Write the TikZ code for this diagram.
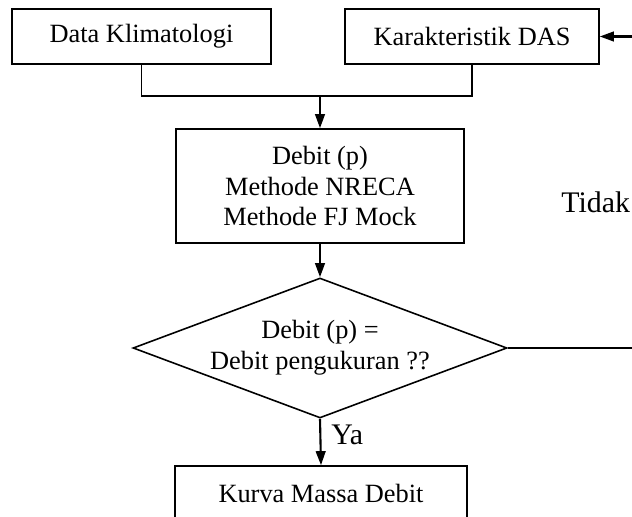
\documentclass[tikz,border=0pt]{standalone}
\usepackage{fontspec}
\setmainfont{Liberation Serif}
\usetikzlibrary{shapes.geometric,arrows.meta,positioning,calc}

\begin{document}
\begin{tikzpicture}[
  box/.style={draw, rectangle, line width=0.9pt, minimum height=1.1cm, align=center, inner sep=2pt},
  decision/.style={draw, diamond, aspect=2.67, line width=0.9pt, minimum width=7.48cm, minimum height=2.8cm, inner sep=0pt, align=center},
  line/.style={line width=0.9pt},
  arr/.style={-{Triangle[length=8pt,width=5.5pt]}, line width=1.2pt},
  lbl/.style={anchor=base west, inner sep=0pt, font=\fontsize{17}{20}\selectfont},
  font=\fontsize{15}{17.5}\selectfont
]
\useasboundingbox (0,0) rectangle (12.64,-10.34);

\node[box, minimum width=5.18cm] (klim) at (2.83,-0.73) {Data Klimatologi};
\node[box, minimum width=5.08cm] (das) at (9.44,-0.73) {Karakteristik DAS};
\node[box, minimum width=5.76cm, minimum height=2.28cm] (debit) at (6.40,-3.72) {Debit (p)\\Methode NRECA\\Methode FJ Mock};
\node[decision] (diam) at (6.40,-6.96) {Debit (p) =\\Debit pengukuran ??};
\node[box, minimum width=5.84cm] (kurva) at (6.42,-9.87) {Kurva Massa Debit};

\coordinate (junc) at (6.40,-1.92);
\coordinate (back) at (13.2,-0.73);

\draw[line] (klim.south) |- (junc) -| (das.south);
\draw[arr] (junc) -- (debit.north);
\draw[arr] (debit.south) -- (diam.north);
\draw[arr] (diam.south) -- (kurva.north);
\draw[line] (diam.east) -| (back);
\draw[arr] (back) -- (das.east);

\node[lbl] (ya) at (6.62,-8.88) {Ya};
\node[lbl] (tidak) at (11.22,-4.26) {Tidak};
\end{tikzpicture}
\end{document}
